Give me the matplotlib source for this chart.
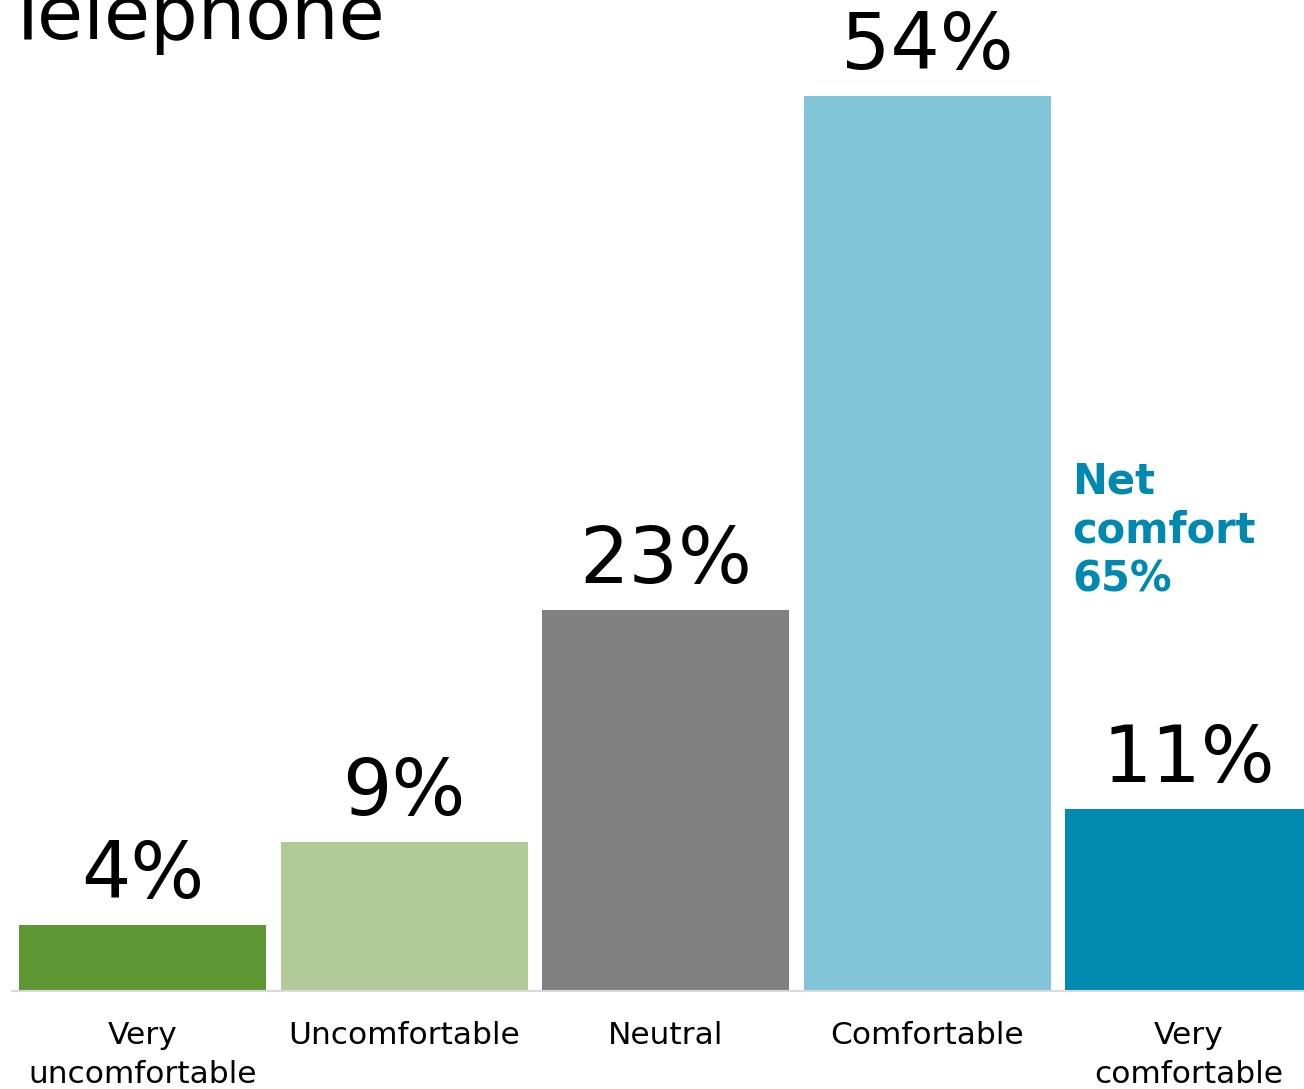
import numpy as np
import matplotlib.pyplot as plt

categories = ["Very\nuncomfortable", "Uncomfortable", "Neutral", "Comfortable", "Very\ncomfortable"]
shares = [4, 9, 23, 54, 11]
bar_colors = ["#5E9732", "#B0CB98", "#808080", "#82C4D8", "#008AB0"]
net_comfort = shares[3] + shares[4]

fig = plt.figure(figsize=(13.04, 10.89), dpi=100)
# axes run a little past the right edge so the last bar is cut off
ax = fig.add_axes([12 / 1304, 98 / 1089, 1307.5 / 1304, 994 / 1089])

x = np.arange(len(categories))
bars = ax.bar(x, shares, width=0.945, color=bar_colors)

for rect, val in zip(bars, shares):
    ax.annotate(f"{val}%", (rect.get_x() + rect.get_width() / 2, rect.get_height()),
                xytext=(0, 27), textcoords="offset pixels",
                ha="center", va="baseline", fontsize=56, color="black")

ax.text(3.555, 32.0, f"Net\ncomfort\n{net_comfort}%", ha="left", va="top",
        fontsize=30, fontweight="bold", color="#0089B0", linespacing=1.2)

ax.set_xlim(-0.5, 4.5)
ax.set_ylim(0, 60)
ax.set_xticks(x)
ax.set_xticklabels(categories, fontsize=22.5)
for lbl in ax.get_xticklabels():
    lbl.set_linespacing(1.42)
ax.tick_params(axis="x", length=0, pad=21.5)
ax.set_yticks([])
for side in ["top", "right", "left"]:
    ax.spines[side].set_visible(False)
ax.spines["bottom"].set_color("#D9D9D9")
ax.spines["bottom"].set_linewidth(1.5)

fig.text(4 / 1304, 1 - 39 / 1089, "Telephone", fontsize=54, ha="left", va="baseline")

fig.savefig("out.png", dpi=100)
